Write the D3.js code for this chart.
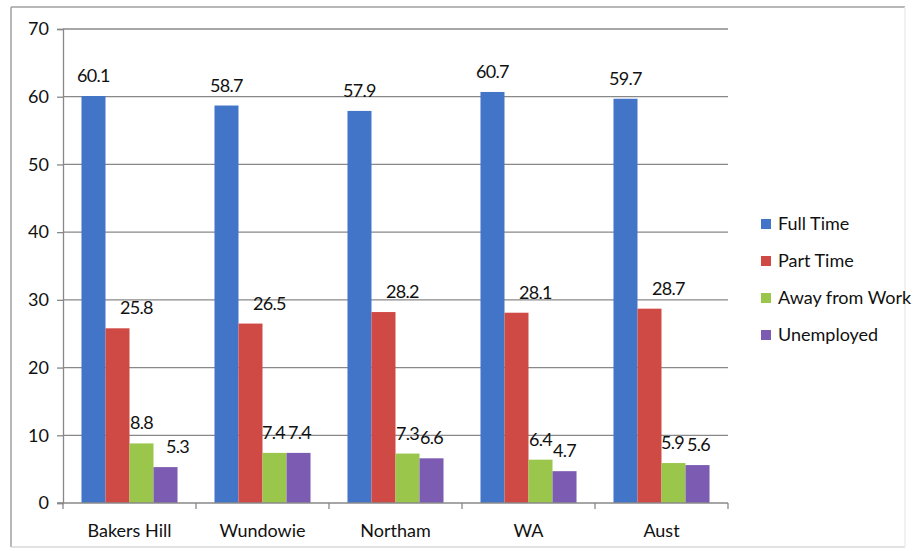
<!DOCTYPE html>
<html>
<head>
<meta charset="utf-8">
<script src="https://cdn.jsdelivr.net/npm/d3@7"></script>
<style>
  html, body { margin: 0; padding: 0; background: #fff; }
  svg text { font-family: Lato, "Open Sans", sans-serif; fill: #111; }
</style>
</head>
<body>
<svg id="chart" width="922" height="551"></svg>
<script>
// ---- data ----
const categories = ["Bakers Hill", "Wundowie", "Northam", "WA", "Aust"];
const seriesNames = ["Full Time", "Part Time", "Away from Work", "Unemployed"];
const fullTime = [60.1, 58.7, 57.9, 60.7, 59.7];
const partTime = [25.8, 26.5, 28.2, 28.1, 28.7];
const awayFromWork = [8.8, 7.4, 7.3, 6.4, 5.9];
const unemployed = [5.3, 7.4, 6.6, 4.7, 5.6];
const yTicks = [0, 10, 20, 30, 40, 50, 60, 70];

// ---- styles ----
const colors = ["#4275c8", "#d04a45", "#9bc64c", "#7c5bb2"];
const seriesValues = [fullTime, partTime, awayFromWork, unemployed];
// Label nudges (px) mimicking spreadsheet label placement
const labelDx = [[0,0,0,0,0],[19,19,19,19,19],[0,-1,0,0,-1],[12,1,0,0,1]];
const FS = 18;

const svg = d3.select("#chart");

// outer frame
svg.append("rect").attr("x", 11).attr("y", 7).attr("width", 894).attr("height", 540)
  .attr("fill", "#fff").attr("stroke", "none");
svg.append("line").attr("x1", 11).attr("x2", 905).attr("y1", 7).attr("y2", 7).attr("stroke", "#a0a0a0").attr("stroke-width", 1.5);
svg.append("line").attr("x1", 11).attr("x2", 11).attr("y1", 7).attr("y2", 547).attr("stroke", "#a0a0a0").attr("stroke-width", 1.5);
svg.append("line").attr("x1", 11).attr("x2", 905).attr("y1", 547).attr("y2", 547).attr("stroke", "#d8d8d8").attr("stroke-width", 1.5);
svg.append("line").attr("x1", 905).attr("x2", 905).attr("y1", 7).attr("y2", 547).attr("stroke", "#ececec").attr("stroke-width", 1.5);

const plot = { left: 63, right: 728, top: 29, bottom: 503 };

const x0 = d3.scaleBand().domain(categories).range([plot.left, plot.right]).padding(0);
const x1 = d3.scaleBand().domain(seriesNames).range([0, x0.bandwidth()])
  .paddingInner(0).paddingOuter(0.77);
const y = d3.scaleLinear().domain([0, 70]).range([plot.bottom, plot.top]);

// gridlines
svg.append("g").selectAll("line").data(yTicks.filter(d => d > 0)).join("line")
  .attr("x1", plot.left).attr("x2", plot.right)
  .attr("y1", d => y(d)).attr("y2", d => y(d))
  .attr("stroke", "#888").attr("stroke-width", 1.3);

// y axis
const yAxis = d3.axisLeft(y).tickValues(yTicks).tickSize(6).tickPadding(8).tickFormat(d3.format("d"));
const gy = svg.append("g").attr("transform", `translate(${plot.left},0)`).call(yAxis);
gy.select(".domain").attr("stroke", "#888").attr("stroke-width", 1.3);
gy.selectAll(".tick line").attr("stroke", "#888").attr("stroke-width", 1.3);
gy.selectAll(".tick text").attr("font-size", FS).attr("font-family", "Lato, sans-serif").attr("fill", "#111");

// bars
const rows = [];
categories.forEach((c, i) => {
  seriesNames.forEach((s, j) => rows.push({ c, s, j, i, v: seriesValues[j][i] }));
});
svg.append("g").selectAll("rect").data(rows).join("rect")
  .attr("x", d => x0(d.c) + x1(d.s))
  .attr("y", d => y(d.v))
  .attr("width", x1.bandwidth())
  .attr("height", d => y(0) - y(d.v))
  .attr("fill", d => colors[d.j]);

// labels
svg.append("g").selectAll("text").data(rows).join("text")
  .attr("x", d => x0(d.c) + x1(d.s) + x1.bandwidth() / 2 + labelDx[d.j][d.i])
  .attr("y", d => y(d.v) - 14)
  .attr("text-anchor", "middle")
  .attr("font-size", FS)
  .attr("letter-spacing", "-0.7px")
  .text(d => d3.format(".1f")(d.v));

// x axis
const xAxis = d3.axisBottom(x0).tickSize(0).tickPadding(18);
const gx = svg.append("g").attr("transform", `translate(0,${plot.bottom})`).call(xAxis);
gx.select(".domain").remove();
gx.selectAll(".tick text").attr("font-size", FS).attr("font-family", "Lato, sans-serif").attr("fill", "#111").attr("dy", "0.9em");
svg.append("line").attr("x1", plot.left - 6).attr("x2", plot.right)
  .attr("y1", plot.bottom).attr("y2", plot.bottom).attr("stroke", "#888").attr("stroke-width", 1.3);
const boundaries = categories.map(c => x0(c)).concat([plot.right]);
svg.append("g").selectAll("line").data(boundaries).join("line")
  .attr("x1", d => d).attr("x2", d => d)
  .attr("y1", plot.bottom).attr("y2", plot.bottom + 6)
  .attr("stroke", "#888").attr("stroke-width", 1.3);

// legend
const lg = svg.append("g").attr("transform", "translate(761,224)");
const li = lg.selectAll("g").data(seriesNames).join("g")
  .attr("transform", (d, i) => `translate(0,${i * 37})`);
li.append("rect").attr("x", 0).attr("y", -5).attr("width", 10).attr("height", 10)
  .attr("fill", (d, i) => colors[i]);
li.append("text").attr("x", 17).attr("y", 0).attr("dy", "0.35em")
  .attr("font-size", FS).text(d => d);
</script>
</body>
</html>
